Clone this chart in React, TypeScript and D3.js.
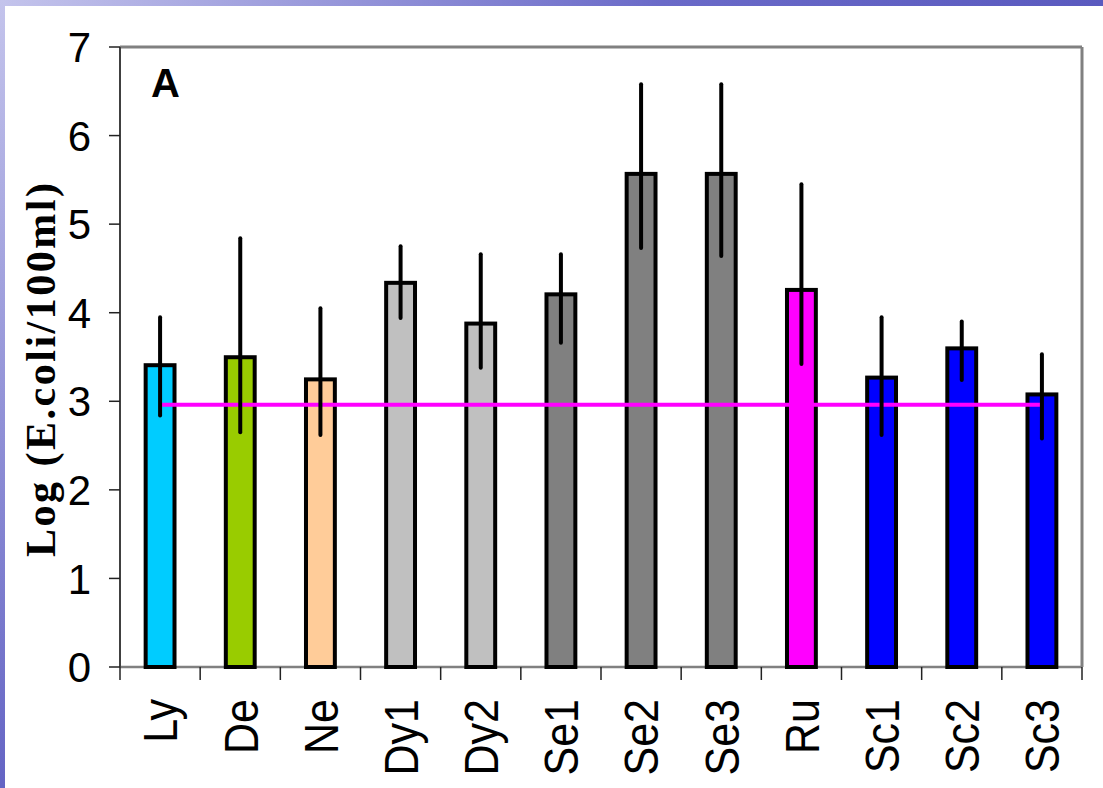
import React from 'react';
import * as d3 from 'd3';

const categories = ['Ly', 'De', 'Ne', 'Dy1', 'Dy2', 'Se1', 'Se2', 'Se3', 'Ru', 'Sc1', 'Sc2', 'Sc3'];
const means = [3.43, 3.52, 3.27, 4.36, 3.9, 4.23, 5.59, 5.59, 4.28, 3.29, 3.62, 3.1];
const errHigh = [3.95, 4.84, 4.05, 4.75, 4.66, 4.66, 6.58, 6.58, 5.45, 3.95, 3.9, 3.53];
const errLow = [2.84, 2.65, 2.62, 3.94, 3.38, 3.66, 4.73, 4.64, 3.42, 2.62, 3.24, 2.58];
const barColors = ['#00CCFF', '#99CC00', '#FFCC99', '#C0C0C0', '#C0C0C0', '#808080', '#808080', '#808080', '#FF00FF', '#0000FF', '#0000FF', '#0000FF'];
const limit = 2.96;
const yTicks = [0, 1, 2, 3, 4, 5, 6, 7];

const W = 1103;
const H = 788;
const left = 120;
const right = 1082;
const top = 47;
const bottom = 667;

const App: React.FC = () => {
  const x = d3.scaleBand<string>()
    .domain(categories)
    .range([left, right])
    .paddingInner(0.64)
    .paddingOuter(0.32);
  const y = d3.scaleLinear().domain([0, 7]).range([bottom, top]);
  const step = x.step();
  const bw = x.bandwidth();
  const cx = (c: string) => (x(c) || 0) + bw / 2;
  const sans = '"Liberation Sans", Arial, sans-serif';

  // band edges for the category ticks
  const boundaries = [...categories.map(c => (x(c) || 0) - step * 0.32), right];

  return (
    <svg width={W} height={H} style={{ position: 'absolute', left: 0, top: 0, display: 'block' }}>
      <defs>
        <linearGradient id="topStrip" x1="0" x2="1" y1="0" y2="0">
          <stop offset="0" stopColor="#c4c4ec" />
          <stop offset="0.6" stopColor="#6a6ac8" />
          <stop offset="1" stopColor="#5a5abf" />
        </linearGradient>
        <linearGradient id="leftStrip" x1="0" x2="0" y1="0" y2="1">
          <stop offset="0" stopColor="#c4c4ec" />
          <stop offset="1" stopColor="#6464c4" />
        </linearGradient>
      </defs>
      <rect x={0} y={0} width={W} height={H} fill="#fff" />
      <rect x={0} y={0} width={W} height={6} fill="url(#topStrip)" />
      <rect x={0} y={0} width={5} height={H} fill="url(#leftStrip)" />

      {/* frame */}
      <line x1={left} x2={right} y1={top} y2={top} stroke="#808080" strokeWidth={3} />
      <line x1={right} x2={right} y1={top} y2={bottom} stroke="#808080" strokeWidth={3} />
      <line x1={left} x2={right} y1={bottom} y2={bottom} stroke="#808080" strokeWidth={2.5} />
      <line x1={left} x2={left} y1={top} y2={bottom} stroke="#404040" strokeWidth={2} />

      {/* y ticks */}
      {yTicks.map(t => (
        <g key={t}>
          <line x1={left - 11} x2={left} y1={y(t)} y2={y(t)} stroke="#222" strokeWidth={1.5} />
          <text x={91} y={y(t)} dy="0.36em" textAnchor="end" fontFamily={sans} fontSize={42} fill="#000">
            {t}
          </text>
        </g>
      ))}

      {/* x ticks */}
      {boundaries.map((b, i) => (
        <line key={i} x1={b} x2={b} y1={bottom} y2={bottom + 13} stroke="#222" strokeWidth={1.5} />
      ))}

      {/* bars */}
      {categories.map((c, i) => (
        <rect
          key={c}
          x={x(c)}
          y={y(means[i]) + 2}
          width={bw}
          height={bottom - y(means[i]) - 2}
          fill={barColors[i]}
          stroke="#000"
          strokeWidth={4}
        />
      ))}

      {/* limit line */}
      <line
        x1={cx(categories[0])}
        x2={cx(categories[categories.length - 1])}
        y1={y(limit)}
        y2={y(limit)}
        stroke="#FF00FF"
        strokeWidth={4}
      />

      {/* error bars */}
      {categories.map((c, i) => (
        <line
          key={c}
          x1={cx(c)}
          x2={cx(c)}
          y1={y(errHigh[i])}
          y2={y(errLow[i])}
          stroke="#000"
          strokeWidth={4}
          strokeLinecap="round"
        />
      ))}

      {/* x labels */}
      {categories.map(c => (
        <text
          key={c}
          transform={`translate(${cx(c)}, 699) rotate(-90) scale(1, 1.12)`}
          dy="0.36em"
          textAnchor="end"
          fontFamily={sans}
          fontSize={43}
          fill="#000"
        >
          {c}
        </text>
      ))}

      <text x={151} y={97} fontFamily={sans} fontWeight="bold" fontSize={40} fill="#000">A</text>

      <text
        transform={`translate(55, ${(183 + 557) / 2}) rotate(-90)`}
        textAnchor="middle"
        fontFamily='"Liberation Serif", "Times New Roman", serif'
        fontWeight="bold"
        fontSize={42}
        textLength={374}
        lengthAdjust="spacing"
        fill="#000"
      >
        Log (E.coli/100ml)
      </text>
    </svg>
  );
};

export default App;
